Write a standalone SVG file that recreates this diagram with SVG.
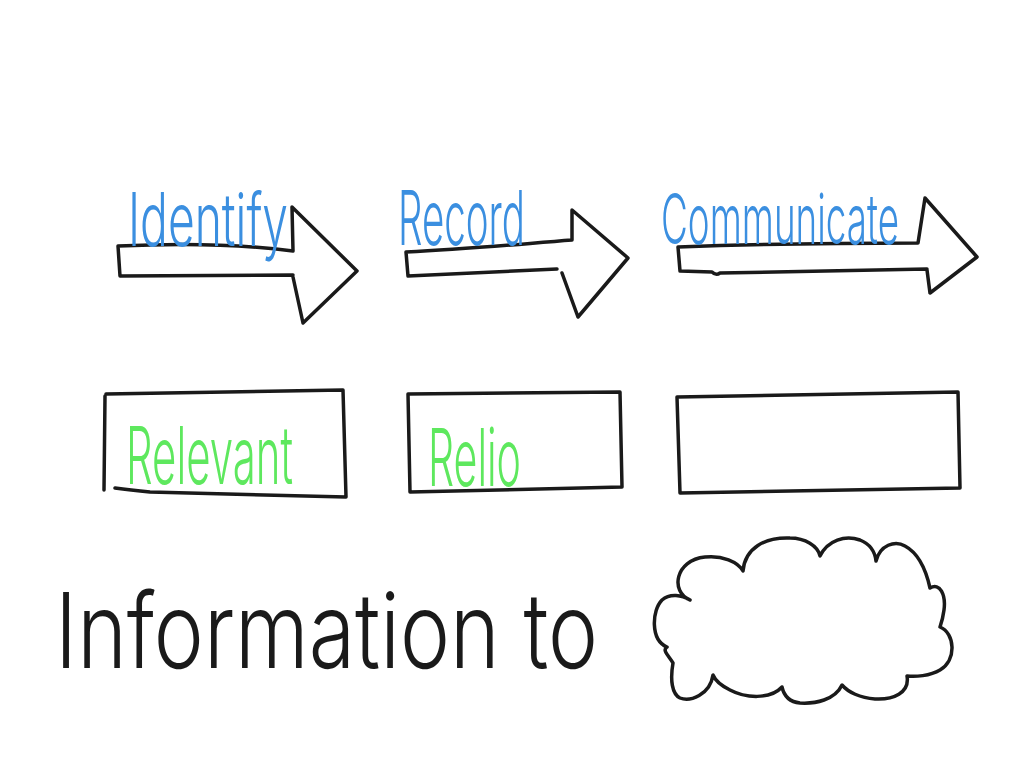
<svg xmlns="http://www.w3.org/2000/svg" width="1024" height="768" viewBox="0 0 1024 768">
<style>
.ink{fill:none;stroke:#1a1a1a;stroke-width:3.5;stroke-linecap:round;stroke-linejoin:round}
.hand{font-family:Inter,"Liberation Sans","Noto Sans",sans-serif;font-weight:300}
.blue{fill:#3b8fe0}
.green{fill:#5ee85e}
.black{fill:#1a1a1a}
</style>
<rect width="1024" height="768" fill="#ffffff"/>
<g id="connectors"/>
<g id="arrow-identify">
<path class="ink" d="M293,275 L120,276 L118,246 C180,243 240,244 293,251 L292,207 L357,271 L303,323 L293,277"/>
<text class="hand blue" x="128" y="246" font-size="74" textLength="160" lengthAdjust="spacingAndGlyphs">Identify</text>
</g>
<g id="arrow-record">
<path class="ink" d="M557,269 L408,276 L406,252 C470,249 520,244 572,240 L572,210 L628,258 L578,317 L562,273"/>
<text class="hand blue" x="398" y="245" font-size="76" textLength="127" lengthAdjust="spacingAndGlyphs">Record</text>
</g>
<g id="arrow-communicate">
<path class="ink" d="M927,269 L720,273 Q716,276 712,272 L680,271 L678,247 C760,244 840,243 918,243 L925,198 L977,257 L930,293 L927,270"/>
<text class="hand blue" transform="translate(661,244) scale(1,1.3)" x="0" y="0" font-size="54" textLength="238" lengthAdjust="spacingAndGlyphs">Communicate</text>
</g>
<g id="box-relevant">
<path class="ink" d="M106,394 L343,390 L346,497 L150,492 Q130,490 115,488 M105,396 L104,490"/>
<text class="hand green" x="126" y="484" font-size="80" textLength="167" lengthAdjust="spacingAndGlyphs">Relevant</text>
</g>
<g id="box-relio">
<path class="ink" d="M408,394 L620,392 L622,487 L410,492 Z"/>
<text class="hand green" x="428" y="486" font-size="80" textLength="93" lengthAdjust="spacingAndGlyphs">Relio</text>
</g>
<g id="box-empty">
<path class="ink" d="M677,397 L958,392 L960,488 L680,493 Z"/>
</g>
<g id="text-information">
<text class="hand black" x="55" y="668" font-size="104" textLength="543" lengthAdjust="spacingAndGlyphs">Information to</text>
</g>
<g id="cloud">
<path class="ink" d="M690,600 C670,592 675,560 705,557 C722,555 738,562 743,571 C745,548 765,537 790,538 C805,538 818,546 820,556 C828,540 845,535 860,540 C870,544 875,552 876,561 C880,545 895,540 905,546 C918,553 926,570 930,588 C940,582 946,595 944,610 C943,618 941,624 940,627 C955,633 957,660 940,670 C930,676 915,677 907,676 C910,693 893,700 875,699 C860,698 848,692 842,685 C835,700 815,704 800,703 C790,702 784,696 782,687 C770,700 745,698 730,690 C720,685 715,680 713,675 C710,695 690,702 680,698 C672,694 670,680 673,663 C668,655 662,650 667,647 C650,640 652,610 662,600 C670,593 682,595 690,600"/>
</g>
</svg>
